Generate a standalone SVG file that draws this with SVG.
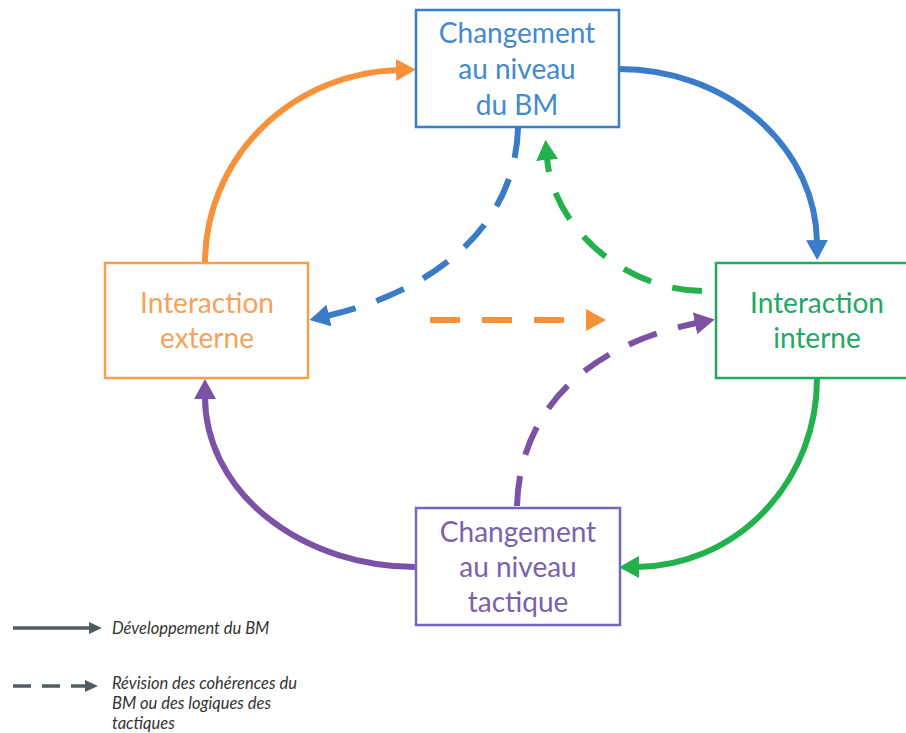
<svg xmlns="http://www.w3.org/2000/svg" width="906" height="733" viewBox="0 0 906 733">
<style>
.box{fill:#fff;stroke-width:2.5}
.lbl{font-family:Lato,"Open Sans","Liberation Sans",sans-serif;font-size:28px;text-anchor:middle}
.arc{fill:none;stroke-width:6}
.dash{fill:none;stroke-width:6;stroke-dasharray:30 22}
.leg{font-family:Lato,"Open Sans","Liberation Sans",sans-serif;font-size:16.5px;font-style:italic;fill:#333}
</style>
<defs>
<marker id="hO" markerUnits="userSpaceOnUse" markerWidth="24" markerHeight="24" refX="2" refY="11" orient="auto"><path d="M0,0 L20,11 L0,22 z" fill="#f7923a"/></marker>
<marker id="hB" markerUnits="userSpaceOnUse" markerWidth="24" markerHeight="24" refX="2" refY="11" orient="auto"><path d="M0,0 L20,11 L0,22 z" fill="#3b7cc8"/></marker>
<marker id="hG" markerUnits="userSpaceOnUse" markerWidth="24" markerHeight="24" refX="2" refY="11" orient="auto"><path d="M0,0 L20,11 L0,22 z" fill="#22b14c"/></marker>
<marker id="hP" markerUnits="userSpaceOnUse" markerWidth="24" markerHeight="24" refX="2" refY="11" orient="auto"><path d="M0,0 L20,11 L0,22 z" fill="#7b52a6"/></marker>
<marker id="hL" markerUnits="userSpaceOnUse" markerWidth="16" markerHeight="16" refX="1" refY="6" orient="auto"><path d="M0,0 L13,6 L0,12 z" fill="#4e5d60"/></marker>
</defs>

<g id="connectors">
<path class="arc" stroke="#f7923a" d="M205 263 A199 193 0 0 1 398 70" marker-end="url(#hO)"/>
<path class="arc" stroke="#3b7cc8" d="M619 69 A198 175 0 0 1 817 242" marker-end="url(#hB)"/>
<path class="arc" stroke="#22b14c" d="M817 379 A182 188 0 0 1 637 567" marker-end="url(#hG)"/>
<path class="arc" stroke="#7b52a6" d="M416 567 A211 170 0 0 1 205 397" marker-end="url(#hP)"/>
<path class="dash" stroke="#3b7cc8" d="M518 128 C515 230 430 292 327 316" marker-end="url(#hB)"/>
<path class="dash" stroke="#22b14c" d="M702 291 C625 290 553 228 547 158" marker-end="url(#hG)"/>
<path class="dash" stroke="#f7923a" d="M430 320 L588 320" marker-end="url(#hO)"/>
<path class="dash" stroke="#7b52a6" d="M517 506 C520 400 600 342 697 323" marker-end="url(#hP)"/>
</g>

<g id="node-bm">
<rect class="box" stroke="#3a7ec8" x="416" y="10" width="203" height="117"/>
<text class="lbl" fill="#4389cf"><tspan x="517" y="43">Changement</tspan><tspan x="517" y="79">au niveau</tspan><tspan x="517" y="115">du BM</tspan></text>
</g>
<g id="node-externe">
<rect class="box" stroke="#f7a050" x="105" y="263" width="203" height="115"/>
<text class="lbl" fill="#f5a35c"><tspan x="207" y="313">Interaction</tspan><tspan x="207" y="348">externe</tspan></text>
</g>
<g id="node-interne">
<rect class="box" stroke="#1fad5a" x="716" y="263" width="203" height="115"/>
<text class="lbl" fill="#21a864"><tspan x="817" y="313">Interaction</tspan><tspan x="817" y="348">interne</tspan></text>
</g>
<g id="node-tactique">
<rect class="box" stroke="#7468bb" x="416" y="508" width="204" height="117"/>
<text class="lbl" fill="#7a62ab"><tspan x="518" y="542">Changement</tspan><tspan x="518" y="577">au niveau</tspan><tspan x="518" y="612">tactique</tspan></text>
</g>

<g id="legend">
<line x1="13" y1="628" x2="90" y2="628" stroke="#4e5d60" stroke-width="3.5" marker-end="url(#hL)"/>
<text class="leg" x="112" y="634">Développement du BM</text>
<line x1="13" y1="686" x2="86" y2="686" stroke="#4e5d60" stroke-width="3.5" stroke-dasharray="18 11" marker-end="url(#hL)"/>
<text class="leg"><tspan x="112" y="689">Révision des cohérences du</tspan><tspan x="112" y="709">BM ou des logiques des</tspan><tspan x="112" y="729">tactiques</tspan></text>
</g>
</svg>
